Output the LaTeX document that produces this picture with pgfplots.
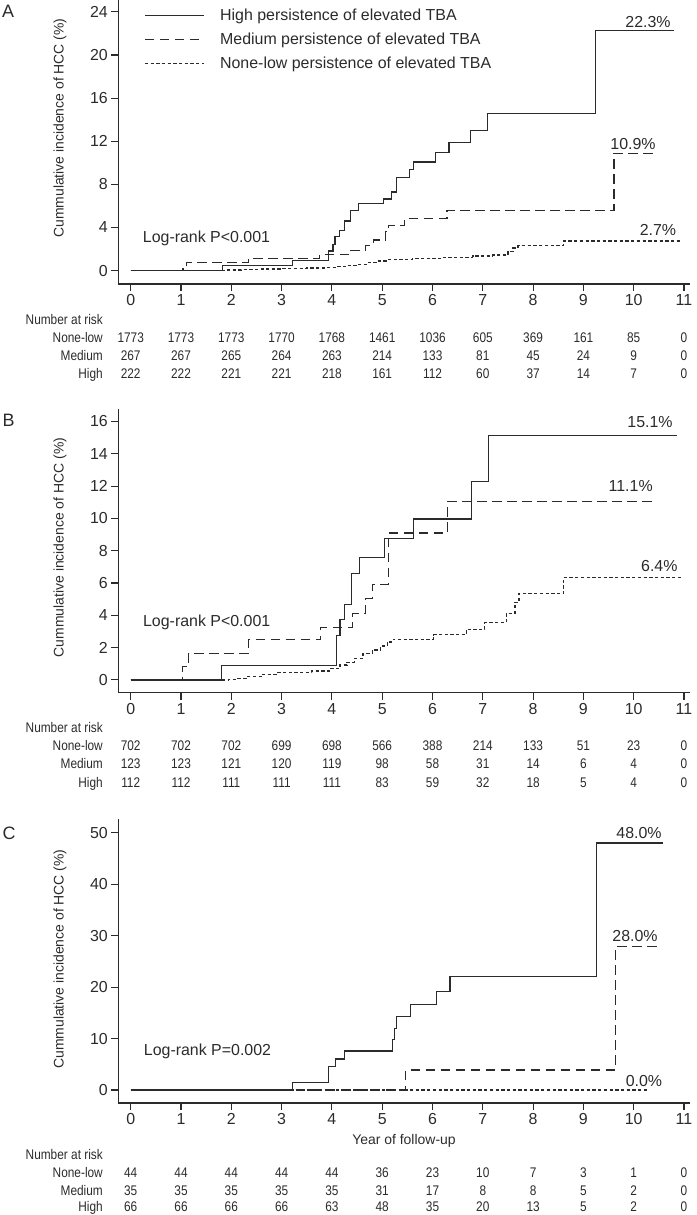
\documentclass[border=0pt]{standalone}
\usepackage{fontspec}
\setmainfont{Liberation Sans}
\usepackage{graphicx}
\usepackage{pgfplots}
\pgfplotsset{compat=1.18}

\definecolor{ink}{gray}{0.17}
\newcommand{\tabfont}{\fontsize{14}{16}\selectfont\color{ink}}
\newcommand{\mainfont}{\fontsize{16}{18}\selectfont\color{ink}}
\newcommand{\labfont}{\fontsize{14}{16}\selectfont\color{ink}}

\newcommand{\riskrow}[3]{%
  \node[anchor=base east, inner sep=0, font=\tabfont] at (103bp,-#1bp) {\scalebox{0.85}[1]{#2}};
  \foreach \v [count=\i from 0] in {#3} {\node[anchor=base, inner sep=0, font=\tabfont] at ({130.7bp+50.3bp*\i},-#1bp) {\scalebox{0.85}[1]{\v}};}
}

\pgfplotsset{
  kmstyle/.style={
    scale only axis, width=571.7bp, height=284bp,
    xmin=-0.247, xmax=11.12,
    axis x line*=bottom, axis y line*=left,
    axis line style={-, line width=1.1bp, draw=ink},
    tick align=outside, major tick length=7bp,
    tick style={line width=1.1bp, draw=ink},
    xtick={0,1,...,11},
    /pgf/number format/assume math mode=true,
    tick label style={font=\mainfont},
    clip=false,
    every axis plot/.append style={const plot, no markers, line width=1.2bp, draw=ink},
  },
  hi/.style={solid},
  me/.style={dash pattern=on 9.5bp off 5.5bp},
  lo/.style={dash pattern=on 3.3bp off 2.4bp},
}

\begin{document}
\begin{tikzpicture}
\path[use as bounding box] (0,0) rectangle (697bp,-1215bp);

% ---------------- Panel A ----------------
\begin{axis}[kmstyle, at={(118.3bp,-284bp)}, anchor=south west,
  ymin=-1.24, ymax=25.1, ytick={0,4,...,24},
  legend style={at={(axis description cs:0.045,0.976)}, anchor=north west, draw=none, fill=none,
    inner sep=0pt, font=\mainfont, row sep=6.8bp,
    /tikz/every odd column/.append style={column sep=14bp}},
  legend cell align=left,
  legend image code/.code={\draw[#1] (0bp,0bp) -- (58.7bp,0bp);},
]
\addplot[hi] coordinates {(0,0) (1.82,0.44) (3.21,0.93) (3.94,1.83) (4.02,2.4) (4.06,3.2) (4.15,3.7) (4.25,4.6) (4.37,5.6) (4.53,6.2) (5.03,6.65) (5.18,7.3) (5.29,8.65) (5.55,9.37) (5.62,10.08) (6.06,10.92) (6.33,11.85) (6.76,13.02) (7.09,14.58) (9.24,22.3) (10.81,22.3)};
\addlegendentry{High persistence of elevated TBA}
\addplot[me] coordinates {(0,0) (1.04,0.37) (1.11,0.78) (2.34,1.15) (3.75,1.5) (4.38,1.9) (4.67,2.33) (4.82,2.84) (5.07,3.6) (5.12,4.22) (5.45,4.8) (6.29,5.6) (9.61,10.9) (10.46,10.9)};
\addlegendentry{Medium persistence of elevated TBA}
\addplot[lo] coordinates {(0,0) (1.9,0.05) (2.2,0.1) (2.6,0.15) (3.0,0.2) (3.5,0.25) (3.9,0.3) (4.1,0.4) (4.3,0.5) (4.5,0.6) (4.7,0.75) (4.9,0.9) (5.1,1.0) (5.6,1.1) (6.2,1.2) (6.8,1.35) (7.2,1.45) (7.5,1.8) (7.6,2.1) (7.7,2.3) (8.6,2.75) (10.93,2.75)};
\addlegendentry{None-low persistence of elevated TBA}
\end{axis}

% ---------------- Panel B ----------------
\begin{axis}[kmstyle, at={(118.3bp,-692.7bp)}, anchor=south west,
  ymin=-0.79, ymax=16.79, ytick={0,2,...,16}]
\addplot[lo] coordinates {(0,0) (1.94,0.05) (2.1,0.1) (2.3,0.2) (2.6,0.35) (2.9,0.45) (3.6,0.55) (3.95,0.7) (4.16,0.93) (4.3,1.1) (4.45,1.35) (4.62,1.65) (4.8,1.85) (4.96,2.1) (5.1,2.35) (5.22,2.52) (6.02,2.79) (6.67,3.14) (7.04,3.55) (7.47,4.13) (7.64,4.8) (7.72,5.37) (8.61,6.36) (10.95,6.36)};
\addplot[me] coordinates {(0,0) (1.03,0.83) (1.15,1.65) (2.34,2.48) (3.78,3.27) (4.41,4.1) (4.67,5.02) (4.80,5.9) (5.12,9.1) (6.30,11.05) (10.42,11.05)};
\addplot[hi] coordinates {(0,0) (1.81,0.9) (4.09,2.75) (4.16,3.72) (4.25,4.65) (4.39,6.6) (4.55,7.6) (5.04,8.74) (5.62,9.96) (6.78,12.29) (7.12,15.12) (10.87,15.12)};
\end{axis}

% ---------------- Panel C ----------------
\begin{axis}[kmstyle, at={(118.3bp,-1103bp)}, anchor=south west,
  ymin=-2.52, ymax=52.66, ytick={0,10,...,50}]
\addplot[lo] coordinates {(0,0) (10.26,0)};
\addplot[me] coordinates {(0,0) (5.47,3.88) (9.64,27.9) (10.5,27.9)};
\addplot[hi] coordinates {(0,0) (3.21,1.4) (3.94,4.53) (4.07,6.02) (4.25,7.6) (5.2,9.8) (5.25,11.97) (5.29,14.24) (5.57,16.6) (6.08,19.22) (6.35,22.0) (9.26,48.0) (10.59,48.0)};
\end{axis}

% ---------------- Texts ----------------
\node[font=\fontsize{18}{20}\selectfont\color{ink}, inner sep=0] at (8bp,-11.5bp) {A};
\node[font=\fontsize{18}{20}\selectfont\color{ink}, inner sep=0] at (8.5bp,-420bp) {B};
\node[font=\fontsize{18}{20}\selectfont\color{ink}, inner sep=0] at (9bp,-833.5bp) {C};

\node[font=\labfont, rotate=90, inner sep=0] at (60bp,-128bp) {Cummulative incidence of HCC (\%)};
\node[font=\labfont, rotate=90, inner sep=0] at (60bp,-547.5bp) {Cummulative incidence of HCC (\%)};
\node[font=\labfont, rotate=90, inner sep=0] at (60bp,-959bp) {Cummulative incidence of HCC (\%)};

\node[font=\mainfont, anchor=base, inner sep=0] at (206.5bp,-242.5bp) {Log-rank P<0.001};
\node[font=\mainfont, anchor=base, inner sep=0] at (206.7bp,-626.5bp) {Log-rank P<0.001};
\node[font=\mainfont, anchor=base, inner sep=0] at (207.5bp,-1055.8bp) {Log-rank P=0.002};

\node[font=\mainfont, inner sep=0] at (648bp,-21.7bp) {22.3\%};
\node[font=\mainfont, inner sep=0] at (633bp,-144bp) {10.9\%};
\node[font=\mainfont, inner sep=0] at (658bp,-230bp) {2.7\%};
\node[font=\mainfont, inner sep=0] at (650bp,-421.7bp) {15.1\%};
\node[font=\mainfont, inner sep=0] at (630.7bp,-486bp) {11.1\%};
\node[font=\mainfont, inner sep=0] at (659.3bp,-565.7bp) {6.4\%};
\node[font=\mainfont, inner sep=0] at (639bp,-832.7bp) {48.0\%};
\node[font=\mainfont, inner sep=0] at (635bp,-936bp) {28.0\%};
\node[font=\mainfont, inner sep=0] at (644bp,-1081bp) {0.0\%};

\node[font=\labfont, anchor=base, inner sep=0] at (404bp,-1144bp) {Year of follow-up};

% ---------------- Risk tables ----------------
\node[anchor=base east, inner sep=0, font=\tabfont] at (103bp,-324.5bp) {\scalebox{0.85}[1]{Number at risk}};
\riskrow{342.5}{None-low}{1773,1773,1773,1770,1768,1461,1036,605,369,161,85,0}
\riskrow{360.5}{Medium}{267,267,265,264,263,214,133,81,45,24,9,0}
\riskrow{378.5}{High}{222,222,221,221,218,161,112,60,37,14,7,0}

\node[anchor=base east, inner sep=0, font=\tabfont] at (103bp,-732.5bp) {\scalebox{0.85}[1]{Number at risk}};
\riskrow{750.5}{None-low}{702,702,702,699,698,566,388,214,133,51,23,0}
\riskrow{768.8}{Medium}{123,123,121,120,119,98,58,31,14,6,4,0}
\riskrow{787}{High}{112,112,111,111,111,83,59,32,18,5,4,0}

\node[anchor=base east, inner sep=0, font=\tabfont] at (103bp,-1159.5bp) {\scalebox{0.85}[1]{Number at risk}};
\riskrow{1177.5}{None-low}{44,44,44,44,44,36,23,10,7,3,1,0}
\riskrow{1195}{Medium}{35,35,35,35,35,31,17,8,8,5,2,0}
\riskrow{1211.5}{High}{66,66,66,66,63,48,35,20,13,5,2,0}
\end{tikzpicture}
\end{document}
